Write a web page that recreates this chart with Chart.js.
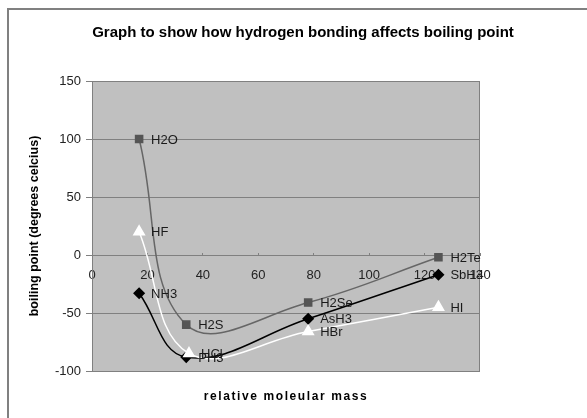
<!DOCTYPE html>
<html>
<head>
<meta charset="utf-8">
<title>Hydrogen bonding and boiling point</title>
<script src="https://cdn.jsdelivr.net/npm/chart.js@4.4.1/dist/chart.umd.min.js"></script>
<style>
  html, body { margin: 0; padding: 0; background: #fff; }
  canvas { display: block; }
</style>
</head>
<body>
<canvas id="bpChart" width="587" height="418"></canvas>
<script>
// group 16 hydrides
const group16Names = ["H2O", "H2S", "H2Se", "H2Te"];
const group16Mass = [17, 34, 78, 125];
const group16Bp = [100, -60, -41, -2];

// group 15 hydrides
const group15Names = ["NH3", "PH3", "AsH3", "SbH3"];
const group15Mass = [17, 34, 78, 125];
const group15Bp = [-33, -88, -55, -17];

// group 17 hydrides
const group17Names = ["HF", "HCl", "HBr", "HI"];
const group17Mass = [17, 35, 78, 125];
const group17Bp = [20, -85, -66, -45];

const xTicks = [0, 20, 40, 60, 80, 100, 120, 140];
const yTicks = [-100, -50, 0, 50, 100, 150];

const FONT = "'Liberation Sans', Arial, sans-serif";
const SMOOTH = 0.4;

function toPoints(xs, ys) {
  return xs.map((x, i) => ({ x: x, y: ys[i] }));
}

// grey frame, plot area fill and border
const framePlugin = {
  id: "frame",
  beforeDraw(chart) {
    const { ctx, chartArea } = chart;
    ctx.save();
    ctx.fillStyle = "#ffffff";
    ctx.fillRect(0, 0, chart.width, chart.height);
    ctx.strokeStyle = "#808080";
    ctx.lineWidth = 2;
    ctx.beginPath();
    ctx.moveTo(8, chart.height);
    ctx.lineTo(8, 9);
    ctx.lineTo(chart.width, 9);
    ctx.stroke();
    ctx.fillStyle = "#c0c0c0";
    ctx.fillRect(chartArea.left, chartArea.top, chartArea.right - chartArea.left, chartArea.bottom - chartArea.top);
    ctx.restore();
  },
  beforeDatasetsDraw(chart) {
    const { ctx, chartArea } = chart;
    ctx.save();
    ctx.strokeStyle = "#808080";
    ctx.lineWidth = 1;
    ctx.strokeRect(chartArea.left + 0.5, chartArea.top + 0.5, chartArea.right - chartArea.left - 1, chartArea.bottom - chartArea.top);
    ctx.restore();
  }
};

// compound names beside each marker, plus the x axis caption
const labelPlugin = {
  id: "pointNames",
  afterDatasetsDraw(chart) {
    const { ctx, chartArea } = chart;
    ctx.save();
    ctx.font = "13px " + FONT;
    ctx.fillStyle = "#1a1a1a";
    ctx.textBaseline = "middle";
    ctx.textAlign = "left";
    chart.data.datasets.forEach((ds, i) => {
      const meta = chart.getDatasetMeta(i);
      meta.data.forEach((pt, j) => {
        ctx.fillText(ds.names[j], pt.x + 12, pt.y + 1);
      });
    });

    ctx.font = "bold 12px " + FONT;
    ctx.fillStyle = "#000";
    ctx.textAlign = "center";
    ctx.letterSpacing = "1.6px";
    ctx.fillText("relative moleular mass", (chartArea.left + chartArea.right) / 2, 397);
    ctx.restore();
  }
};

new Chart(document.getElementById("bpChart"), {
  type: "line",
  data: {
    datasets: [
      {
        label: "group 17",
        names: group17Names,
        data: toPoints(group17Mass, group17Bp),
        borderColor: "#ffffff",
        borderWidth: 1.5,
        pointStyle: "triangle",
        pointRadius: 6,
        pointBackgroundColor: "#ffffff",
        pointBorderColor: "#ffffff",
        tension: SMOOTH
      },
      {
        label: "group 16",
        names: group16Names,
        data: toPoints(group16Mass, group16Bp),
        borderColor: "#666666",
        borderWidth: 1.5,
        pointStyle: "rect",
        pointRadius: 5,
        pointBackgroundColor: "#555555",
        pointBorderColor: "#555555",
        tension: SMOOTH
      },
      {
        label: "group 15",
        names: group15Names,
        data: toPoints(group15Mass, group15Bp),
        borderColor: "#000000",
        borderWidth: 1.5,
        pointStyle: "rectRot",
        pointRadius: 5,
        pointBackgroundColor: "#000000",
        pointBorderColor: "#000000",
        tension: SMOOTH
      }
    ]
  },
  options: {
    responsive: false,
    animation: false,
    layout: { padding: { left: 19, right: 0, top: 0, bottom: 47 } },
    plugins: {
      legend: { display: false },
      tooltip: { enabled: false },
      title: {
        display: true,
        text: "Graph to show how hydrogen bonding affects boiling point",
        color: "#000",
        font: { family: FONT, size: 15, weight: "bold" },
        padding: { top: 24, bottom: 39 }
      }
    },
    scales: {
      x: {
        type: "linear",
        position: { y: 0 },
        min: xTicks[0],
        max: xTicks[xTicks.length - 1],
        afterBuildTicks(scale) { scale.ticks = xTicks.map(v => ({ value: v })); },
        ticks: { color: "#222", font: { family: FONT, size: 13 }, padding: 16, maxRotation: 0 },
        grid: { drawOnChartArea: false, tickLength: -3, color: "#808080" },
        border: { color: "#808080", width: 1 }
      },
      y: {
        type: "linear",
        position: "left",
        min: yTicks[0],
        max: yTicks[yTicks.length - 1],
        afterBuildTicks(scale) { scale.ticks = yTicks.map(v => ({ value: v })); },
        afterFit(scale) { scale.width = 73; },
        ticks: { color: "#222", font: { family: FONT, size: 13 }, padding: 5 },
        grid: { color: "#808080", tickLength: 6 },
        border: { color: "#808080", width: 1 },
        title: {
          display: true,
          text: "boiling point (degrees celcius)",
          color: "#000",
          font: { family: FONT, size: 12.5, weight: "bold" },
          padding: { top: 8, bottom: 0 }
        }
      },
      // empty right-hand axis, keeps space beside the plot
      yRight: {
        type: "linear",
        position: "right",
        min: 0,
        max: 1,
        afterFit(scale) { scale.width = 107; },
        ticks: { display: false },
        grid: { display: false, drawTicks: false },
        border: { display: false }
      }
    }
  },
  plugins: [framePlugin, labelPlugin]
});
</script>
</body>
</html>
